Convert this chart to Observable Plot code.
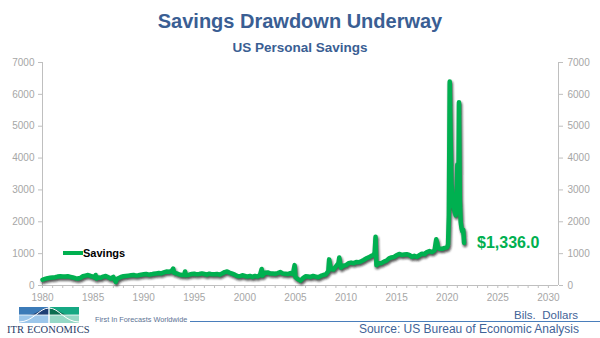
<!DOCTYPE html>
<html>
<head>
<meta charset="utf-8">
<script src="https://cdn.jsdelivr.net/npm/d3@7"></script>
<script src="https://cdn.jsdelivr.net/npm/@observablehq/plot@0.6"></script>
<style>
  html, body { margin: 0; padding: 0; background: #fff; }
  #wrap { position: relative; width: 600px; height: 338px; overflow: hidden; font-family: "Liberation Sans", Arial, sans-serif; }
  #wrap svg.plot { position: absolute; left: 0; top: 0; }
  .abs { position: absolute; line-height: 1; white-space: nowrap; }
</style>
</head>
<body>
<div id="wrap"></div>
<script>
// ---------- data ----------
const title = "Savings Drawdown Underway";
const subtitle = "US Personal Savings";
const seriesName = "Savings";
const unitsLabel = "Bils.  Dollars";
const sourceLabel = "Source: US Bureau of Economic Analysis";
const brandName = "ITR ECONOMICS";
const brandTagline = "First In Forecasts Worldwide";

const months = [
  "1980-01","1980-04","1980-07","1980-10",
  "1981-01","1981-04","1981-07","1981-10",
  "1982-01","1982-04","1982-07","1982-10",
  "1983-01","1983-04","1983-07","1983-10",
  "1984-01","1984-04","1984-07","1984-10",
  "1985-01","1985-03","1985-04","1985-05","1985-07","1985-10",
  "1986-01","1986-04","1986-07","1986-10",
  "1987-01","1987-04","1987-05","1987-07","1987-10",
  "1988-01","1988-04","1988-07","1988-10",
  "1989-01","1989-04","1989-07","1989-10",
  "1990-01","1990-04","1990-07","1990-10",
  "1991-01","1991-04","1991-07","1991-10",
  "1992-01","1992-04","1992-07","1992-10","1992-12",
  "1993-01","1993-04","1993-07","1993-10",
  "1994-01","1994-02","1994-03","1994-07","1994-10",
  "1995-01","1995-04","1995-07","1995-10",
  "1996-01","1996-04","1996-07","1996-10",
  "1997-01","1997-04","1997-07","1997-10",
  "1998-01","1998-04","1998-07","1998-10",
  "1999-01","1999-04","1999-07","1999-10",
  "2000-01","2000-04","2000-07","2000-10",
  "2001-01","2001-04","2001-07","2001-09","2001-10",
  "2002-01","2002-04","2002-07","2002-10",
  "2003-01","2003-04","2003-07","2003-10",
  "2004-01","2004-04","2004-07","2004-10","2004-12",
  "2005-01","2005-04","2005-07","2005-10",
  "2006-01","2006-04","2006-07","2006-10",
  "2007-01","2007-04","2007-07","2007-10",
  "2008-01","2008-04","2008-05","2008-06","2008-07","2008-10",
  "2009-01","2009-04","2009-05","2009-06","2009-07","2009-10",
  "2010-01","2010-04","2010-07","2010-10",
  "2011-01","2011-04","2011-07","2011-10",
  "2012-01","2012-04","2012-07","2012-10","2012-11","2012-12",
  "2013-01","2013-04","2013-07","2013-10",
  "2014-01","2014-04","2014-07","2014-10",
  "2015-01","2015-04","2015-07","2015-10",
  "2016-01","2016-04","2016-07","2016-10",
  "2017-01","2017-04","2017-07","2017-10",
  "2018-01","2018-04","2018-07","2018-10","2018-12",
  "2019-01","2019-02","2019-04","2019-07","2019-10",
  "2020-01","2020-02","2020-03","2020-04","2020-05","2020-06","2020-07","2020-08","2020-09","2020-10","2020-11","2020-12",
  "2021-01","2021-02","2021-03","2021-04","2021-05","2021-06","2021-07","2021-08","2021-09"
];
const savings = [
  180,210,230,240,
  250,260,280,290,
  280,285,290,270,
  250,230,220,240,
  290,310,330,300,
  280,250,330,220,250,240,
  280,300,260,220,
  270,110,200,230,270,
  290,300,310,320,
  330,310,320,340,
  350,360,340,350,
  370,380,390,380,
  410,440,430,450,530,
  400,380,350,330,
  330,440,320,340,360,
  370,350,360,380,
  360,340,370,350,
  350,360,340,380,
  420,440,400,370,
  340,300,290,320,
  300,280,300,270,
  300,280,330,520,310,
  400,410,380,380,
  370,390,420,380,
  370,360,390,360,640,
  260,200,150,230,
  290,280,270,300,
  280,260,300,330,
  350,450,820,650,520,500,
  600,700,880,700,560,620,
  640,700,720,700,
  740,730,760,800,
  850,880,930,960,1050,1530,
  640,700,700,750,
  780,850,880,900,
  950,990,960,970,
  980,960,900,930,
  900,950,1000,980,
  1050,1080,1050,1100,1450,
  1350,1200,1150,1150,1180,
  1200,1300,2200,6400,4700,3200,2900,2500,2400,2300,2200,2400,
  3800,2300,5750,2700,2000,1800,1700,1750,1336
];
const xDomain = ["1980-01-01", "2031-01-01"];
const yDomain = [0, 7000];
const yTicks = [0,1000,2000,3000,4000,5000,6000,7000];
const xLabelYears = [1980,1985,1990,1995,2000,2005,2010,2015,2020,2025,2030];

// ---------- build ----------
const parseMonth = d3.utcParse("%Y-%m");
const data = months.map((m, i) => ({date: parseMonth(m), value: savings[i]}));
const xd = xDomain.map(d => new Date(d));
const yearTicks = d3.range(1980, 2031).map(y => new Date(Date.UTC(y, 0, 1)));
const labelTicks = xLabelYears.map(y => new Date(Date.UTC(y, 0, 1)));
const last = data[data.length - 1];

const GREEN = "#00B050";
const SHADOW = "#1a1a1a";

const chart = Plot.plot({
  width: 600,
  height: 338,
  marginTop: 62,
  marginBottom: 53,
  marginLeft: 42,
  marginRight: 42,
  style: {fontFamily: '"Liberation Sans", Arial, sans-serif', fontSize: "10px", background: "transparent"},
  x: {type: "utc", domain: xd},
  y: {domain: yDomain},
  marks: [
    Plot.axisY({anchor: "left", ticks: yTicks, tickSize: 4, tickPadding: 4, tickFormat: d3.format("d"), label: null, stroke: "#BFBFBF", fill: "#A6A6A6", fontSize: 10}),
    Plot.axisY({anchor: "right", ticks: yTicks, tickSize: 4, tickPadding: 5, tickFormat: d3.format("d"), label: null, stroke: "#BFBFBF", fill: "#A6A6A6", fontSize: 10}),
    Plot.axisX({ticks: yearTicks, tickSize: 3, tickFormat: () => "", label: null, stroke: "#BFBFBF"}),
    Plot.axisX({ticks: labelTicks, tickSize: 0, tickPadding: 8, tickFormat: d3.utcFormat("%Y"), label: null, fill: "#A6A6A6", fontSize: 10}),
    Plot.ruleX(xd, {stroke: "#BFBFBF", strokeWidth: 1}),
    Plot.ruleY([0], {stroke: "#BFBFBF", strokeWidth: 1}),
    Plot.line(data, {x: "date", y: "value", stroke: SHADOW, strokeWidth: 4.5, strokeOpacity: 0.75, dx: 1, dy: 2, strokeLinejoin: "round"}),
    Plot.line(data, {x: "date", y: "value", stroke: GREEN, strokeWidth: 4.5, strokeLinejoin: "round", strokeLinecap: "round"}),
    Plot.text([last], {x: "date", y: "value", text: d => "$" + d3.format(",.1f")(d.value), dx: 13, textAnchor: "start", fontSize: 16, fontWeight: "bold", fill: GREEN})
  ]
});
chart.classList.add("plot");

// blur filter for the drop shadow
const svgNS = "http://www.w3.org/2000/svg";
const defs = document.createElementNS(svgNS, "defs");
defs.innerHTML = '<filter id="shadowBlur" x="-5%" y="-5%" width="110%" height="110%"><feGaussianBlur stdDeviation="1.2"/></filter>';
chart.insertBefore(defs, chart.firstChild);
chart.querySelectorAll('g[stroke="' + SHADOW + '"]').forEach(g => g.setAttribute("filter", "url(#shadowBlur)"));

const wrap = document.getElementById("wrap");
wrap.appendChild(chart);

function addDiv(text, css) {
  const d = document.createElement("div");
  d.className = "abs";
  d.textContent = text;
  Object.assign(d.style, css);
  wrap.appendChild(d);
  return d;
}

// titles
addDiv(title, {left: "0px", width: "600px", textAlign: "center", top: "11px", fontSize: "20px", fontWeight: "bold", color: "#3A5E93"});
addDiv(subtitle, {left: "0px", width: "600px", textAlign: "center", top: "40.5px", fontSize: "13.5px", fontWeight: "bold", color: "#3A5E93"});

// legend
const lg = document.createElement("div");
lg.className = "abs";
Object.assign(lg.style, {left: "63px", top: "251px", width: "20px", height: "4px", background: GREEN});
wrap.appendChild(lg);
addDiv(seriesName, {left: "83px", top: "248px", fontSize: "11px", fontWeight: "bold", color: "#000"});

// footer: rule, units, source
const rule = document.createElement("div");
rule.className = "abs";
Object.assign(rule.style, {left: "190px", top: "320.5px", width: "410px", height: "1.5px", background: "#4A7EBB"});
wrap.appendChild(rule);
addDiv(unitsLabel, {right: "22px", top: "309.5px", fontSize: "11.5px", color: "#3F6397", whiteSpace: "pre"});
addDiv(sourceLabel, {right: "21px", top: "323px", fontSize: "12px", color: "#3F6397"});

// brand
const logo = document.createElement("div");
logo.className = "abs";
Object.assign(logo.style, {left: "19px", top: "307px"});
logo.innerHTML = `
<svg width="60" height="16" viewBox="0 0 60 16">
  <rect x="0" y="0" width="29.5" height="8" fill="#3C7BB8"/>
  <rect x="30.5" y="0" width="29.5" height="8" fill="#16A883"/>
  <rect x="0" y="8" width="29.5" height="8" fill="#9CC6EA"/>
  <rect x="30.5" y="8" width="29.5" height="8" fill="#96D8C6"/>
  <path d="M8,8 C18,8 22,1 29.5,1 L29.5,8 Z" fill="#1E3F74"/>
  <path d="M30.5,1 C38,1 42,8 52,8 L30.5,8 Z" fill="#0B6E51"/>
  <path d="M0,15 C14,15 20,1 30,1 C40,1 46,15 60,15" fill="none" stroke="#fff" stroke-width="1"/>
  <line x1="0" y1="8" x2="60" y2="8" stroke="#fff" stroke-width="0.8"/>
  <line x1="30" y1="0" x2="30" y2="16" stroke="#fff" stroke-width="1"/>
</svg>`;
wrap.appendChild(logo);
addDiv(brandName, {left: "7px", top: "325px", fontSize: "10.5px", fontFamily: '"Liberation Serif", "DejaVu Serif", serif', color: "#1F3A66", letterSpacing: "0.1px"});
addDiv(brandTagline, {left: "95px", top: "315.5px", fontSize: "7.3px", color: "#5C7394"});
</script>
</body>
</html>
